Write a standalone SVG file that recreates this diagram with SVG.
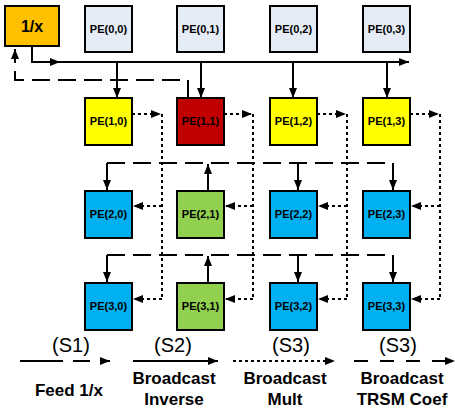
<svg xmlns="http://www.w3.org/2000/svg" width="455" height="410" viewBox="0 0 455 410">
<style>
.box{stroke:#000;stroke-width:2}
.lbl{font-family:"Liberation Sans",Arial,sans-serif;font-weight:bold;font-size:11px;text-anchor:middle;fill:#000}
.c{fill:none;stroke:#000;stroke-width:2}
.dot{stroke-dasharray:3 3}
.dash{stroke-dasharray:18 8}
.leg{font-family:"Liberation Sans",Arial,sans-serif;font-size:20px;text-anchor:middle;fill:#000}
.legb{font-family:"Liberation Sans",Arial,sans-serif;font-weight:bold;font-size:17px;text-anchor:middle;fill:#000}
.gray{fill:#E6ECF6}.yel{fill:#FFFF00}.red{fill:#C00000}.blue{fill:#00B0F0}.green{fill:#92D050}
</style>
<defs>
<marker id="ah" markerUnits="userSpaceOnUse" markerWidth="11" markerHeight="9" refX="10" refY="4" orient="auto">
<path d="M0,0 L10,4 L0,8 z" fill="#000" stroke="none"/>
</marker>
</defs>
<g id="inv"><rect class="box" x="5" y="6" width="54" height="40" fill="#FFC000"/><text x="32" y="32" class="lbl" font-size="16" style="font-size:16px">1/x</text></g>
<g id="pe00"><rect class="box gray" x="85" y="6" width="47" height="46"/><text x="108.5" y="33" class="lbl">PE(0,0)</text></g>
<g id="pe01"><rect class="box gray" x="177" y="6" width="47" height="46"/><text x="200.5" y="33" class="lbl">PE(0,1)</text></g>
<g id="pe02"><rect class="box gray" x="270" y="6" width="47" height="46"/><text x="293.5" y="33" class="lbl">PE(0,2)</text></g>
<g id="pe03"><rect class="box gray" x="363" y="6" width="47" height="46"/><text x="386.5" y="33" class="lbl">PE(0,3)</text></g>
<g id="pe10"><rect class="box yel" x="85" y="98" width="47" height="47"/><text x="108.5" y="125" class="lbl">PE(1,0)</text></g>
<g id="pe11"><rect class="box red" x="177" y="98" width="47" height="47"/><text x="200.5" y="125" class="lbl">PE(1,1)</text></g>
<g id="pe12"><rect class="box yel" x="270" y="98" width="47" height="47"/><text x="293.5" y="125" class="lbl">PE(1,2)</text></g>
<g id="pe13"><rect class="box yel" x="363" y="98" width="47" height="47"/><text x="386.5" y="125" class="lbl">PE(1,3)</text></g>
<g id="pe20"><rect class="box blue" x="85" y="191" width="47" height="47"/><text x="108.5" y="218" class="lbl">PE(2,0)</text></g>
<g id="pe21"><rect class="box green" x="177" y="191" width="47" height="47"/><text x="200.5" y="218" class="lbl">PE(2,1)</text></g>
<g id="pe22"><rect class="box blue" x="270" y="191" width="47" height="47"/><text x="293.5" y="218" class="lbl">PE(2,2)</text></g>
<g id="pe23"><rect class="box blue" x="363" y="191" width="47" height="47"/><text x="386.5" y="218" class="lbl">PE(2,3)</text></g>
<g id="pe30"><rect class="box blue" x="85" y="283" width="47" height="47"/><text x="108.5" y="310" class="lbl">PE(3,0)</text></g>
<g id="pe31"><rect class="box green" x="177" y="283" width="47" height="47"/><text x="200.5" y="310" class="lbl">PE(3,1)</text></g>
<g id="pe32"><rect class="box blue" x="270" y="283" width="47" height="47"/><text x="293.5" y="310" class="lbl">PE(3,2)</text></g>
<g id="pe33"><rect class="box blue" x="363" y="283" width="47" height="47"/><text x="386.5" y="310" class="lbl">PE(3,3)</text></g>
<g id="connectors">
<path class="c" d="M32,46 V62 H60" marker-end="url(#ah)"/>
<path class="c" d="M58,62 H409" marker-end="url(#ah)"/>
<path class="c" d="M117,62 V98" marker-end="url(#ah)"/>
<path class="c" d="M201,62 V98" marker-end="url(#ah)"/>
<path class="c" d="M293,62 V98" marker-end="url(#ah)"/>
<path class="c" d="M387,62 V98" marker-end="url(#ah)"/>
<path class="c dash" d="M188,98 V80 H15 V49" marker-end="url(#ah)"/>
<path class="c dot" d="M132,114 H161" marker-end="url(#ah)"/>
<path class="c dot" d="M162,114 V299"/>
<path class="c dot" d="M162,206 H133" marker-end="url(#ah)"/>
<path class="c dot" d="M162,299 H133" marker-end="url(#ah)"/>
<path class="c dot" d="M224,114 H252" marker-end="url(#ah)"/>
<path class="c dot" d="M253,114 V299"/>
<path class="c dot" d="M253,206 H225" marker-end="url(#ah)"/>
<path class="c dot" d="M253,299 H225" marker-end="url(#ah)"/>
<path class="c dot" d="M317,114 H346" marker-end="url(#ah)"/>
<path class="c dot" d="M347,114 V299"/>
<path class="c dot" d="M347,206 H318" marker-end="url(#ah)"/>
<path class="c dot" d="M347,299 H318" marker-end="url(#ah)"/>
<path class="c dot" d="M410,114 H439" marker-end="url(#ah)"/>
<path class="c dot" d="M440,114 V299"/>
<path class="c dot" d="M440,206 H411" marker-end="url(#ah)"/>
<path class="c dot" d="M440,299 H411" marker-end="url(#ah)"/>
<path class="c" d="M208,191 V164" marker-end="url(#ah)"/>
<path class="c dash" d="M107,163 H393"/>
<path class="c" d="M107,163 V190" marker-end="url(#ah)"/>
<path class="c" d="M298,163 V190" marker-end="url(#ah)"/>
<path class="c" d="M393,163 V190" marker-end="url(#ah)"/>
<path class="c" d="M208,283 V256" marker-end="url(#ah)"/>
<path class="c dash" d="M107,255 H393"/>
<path class="c" d="M107,255 V282" marker-end="url(#ah)"/>
<path class="c" d="M298,255 V282" marker-end="url(#ah)"/>
<path class="c" d="M393,255 V282" marker-end="url(#ah)"/>
</g>
<g id="legend">
<text x="71" y="352" class="leg">(S1)</text>
<text x="173" y="352" class="leg">(S2)</text>
<text x="291" y="352" class="leg">(S3)</text>
<text x="398" y="352" class="leg">(S3)</text>
<path class="c" d="M20,361 H110" stroke-dasharray="43 10 17 10" marker-end="url(#ah)"/>
<path class="c" d="M133,361 H218" marker-end="url(#ah)"/>
<path class="c dot" d="M233,361 H335" marker-end="url(#ah)"/>
<path class="c" d="M354,361 H455" stroke-dasharray="14 12" marker-end="url(#ah)"/>
<text x="69" y="396" class="legb">Feed 1/x</text>
<text x="174" y="384" class="legb">Broadcast</text>
<text x="174" y="405" class="legb">Inverse</text>
<text x="285" y="384" class="legb">Broadcast</text>
<text x="285" y="405" class="legb">Mult</text>
<text x="402" y="384" class="legb">Broadcast</text>
<text x="402" y="405" class="legb">TRSM Coef</text>
</g>
</svg>
